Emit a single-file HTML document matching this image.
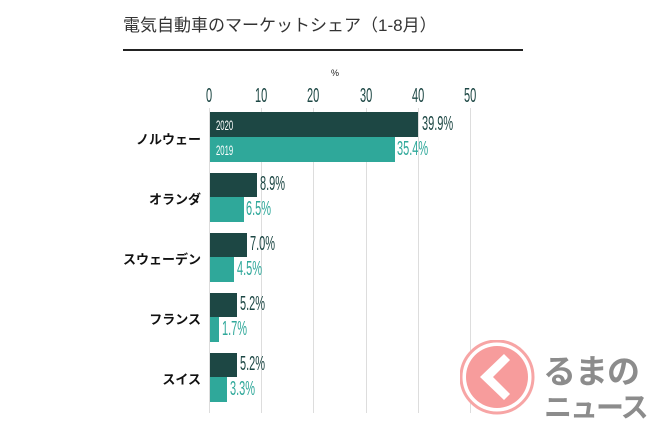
<html><head><style>
body{margin:0;width:650px;height:433px;background:#fff;position:relative;overflow:hidden;font-family:"Liberation Sans","Noto Sans CJK JP",sans-serif}
.a{position:absolute}
.t{font-size:17px;color:#333;left:123px;top:11px;white-space:nowrap}
.n{font-size:20px;transform:scaleX(.55);transform-origin:left top;white-space:nowrap}
.g{width:1px;background:#ddd;top:108px;height:305px}
.lab{font-weight:bold;font-size:13px;color:#111;width:120px;text-align:right;left:81px}
</style></head><body>
<div class="a t">電気自動車のマーケットシェア（1-8月）</div>
<div class="a" style="left:123px;top:49px;width:400px;height:2px;background:#222"></div>
<div class="a" style="left:331px;top:68px;font-size:9px;color:#222">%</div>
<div class="a g" style="left:209px"></div><div class="a g" style="left:261px"></div><div class="a g" style="left:313px"></div><div class="a g" style="left:366px"></div><div class="a g" style="left:418px"></div><div class="a g" style="left:470px"></div>
<div class="a n" style="left:206px;top:85px;color:#1d4744">0</div>
<div class="a n" style="left:255px;top:85px;color:#1d4744">10</div>
<div class="a n" style="left:307px;top:85px;color:#1d4744">20</div>
<div class="a n" style="left:360px;top:85px;color:#1d4744">30</div>
<div class="a n" style="left:412px;top:85px;color:#1d4744">40</div>
<div class="a n" style="left:464px;top:85px;color:#1d4744">50</div>

<div class="a" style="left:210px;top:112px;width:208px;height:25px;background:#1d4744"></div>
<div class="a" style="left:210px;top:137px;width:185px;height:25px;background:#2fa89a"></div>
<div class="a n" style="left:216px;top:117px;color:#fff;font-size:14px">2020</div>
<div class="a n" style="left:216px;top:142px;color:#fff;font-size:14px">2019</div>
<div class="a n" style="left:422px;top:113px;color:#1d4744">39.9%</div>
<div class="a n" style="left:397px;top:138px;color:#2fa89a">35.4%</div>
<div class="a lab" style="top:129px">ノルウェー</div>

<div class="a" style="left:210px;top:173px;width:47px;height:24px;background:#1d4744"></div>
<div class="a" style="left:210px;top:197px;width:34px;height:25px;background:#2fa89a"></div>
<div class="a n" style="left:260px;top:173px;color:#1d4744">8.9%</div>
<div class="a n" style="left:246px;top:198px;color:#2fa89a">6.5%</div>
<div class="a lab" style="top:189px">オランダ</div>

<div class="a" style="left:210px;top:233px;width:37px;height:24px;background:#1d4744"></div>
<div class="a" style="left:210px;top:257px;width:24px;height:25px;background:#2fa89a"></div>
<div class="a n" style="left:250px;top:233px;color:#1d4744">7.0%</div>
<div class="a n" style="left:237px;top:258px;color:#2fa89a">4.5%</div>
<div class="a lab" style="top:249px">スウェーデン</div>

<div class="a" style="left:210px;top:293px;width:27px;height:24px;background:#1d4744"></div>
<div class="a" style="left:210px;top:317px;width:9px;height:25px;background:#2fa89a"></div>
<div class="a n" style="left:240px;top:293px;color:#1d4744">5.2%</div>
<div class="a n" style="left:222px;top:318px;color:#2fa89a">1.7%</div>
<div class="a lab" style="top:309px">フランス</div>

<div class="a" style="left:210px;top:353px;width:27px;height:24px;background:#1d4744"></div>
<div class="a" style="left:210px;top:377px;width:17px;height:25px;background:#2fa89a"></div>
<div class="a n" style="left:240px;top:353px;color:#1d4744">5.2%</div>
<div class="a n" style="left:230px;top:378px;color:#2fa89a">3.3%</div>
<div class="a lab" style="top:369px">スイス</div>

<svg class="a" style="left:460px;top:340px" width="80" height="80"><circle cx="37" cy="37" r="36" fill="#fff" stroke="#f7a5a5" stroke-width="3"/><circle cx="37" cy="37" r="31" fill="#f79c9c"/><path d="M44 14 L20 37 L44 60 L50 54 L33 37 L50 20Z" fill="#fff"/></svg>
<div class="a" style="left:543px;top:345px;font-size:33px;font-weight:bold;color:#8c8c8c;letter-spacing:-1px;white-space:nowrap">るまの</div>
<div class="a" style="left:544px;top:386px;font-size:28px;font-weight:bold;color:#8c8c8c;letter-spacing:-2px;white-space:nowrap">ニュース</div>
</body></html>
